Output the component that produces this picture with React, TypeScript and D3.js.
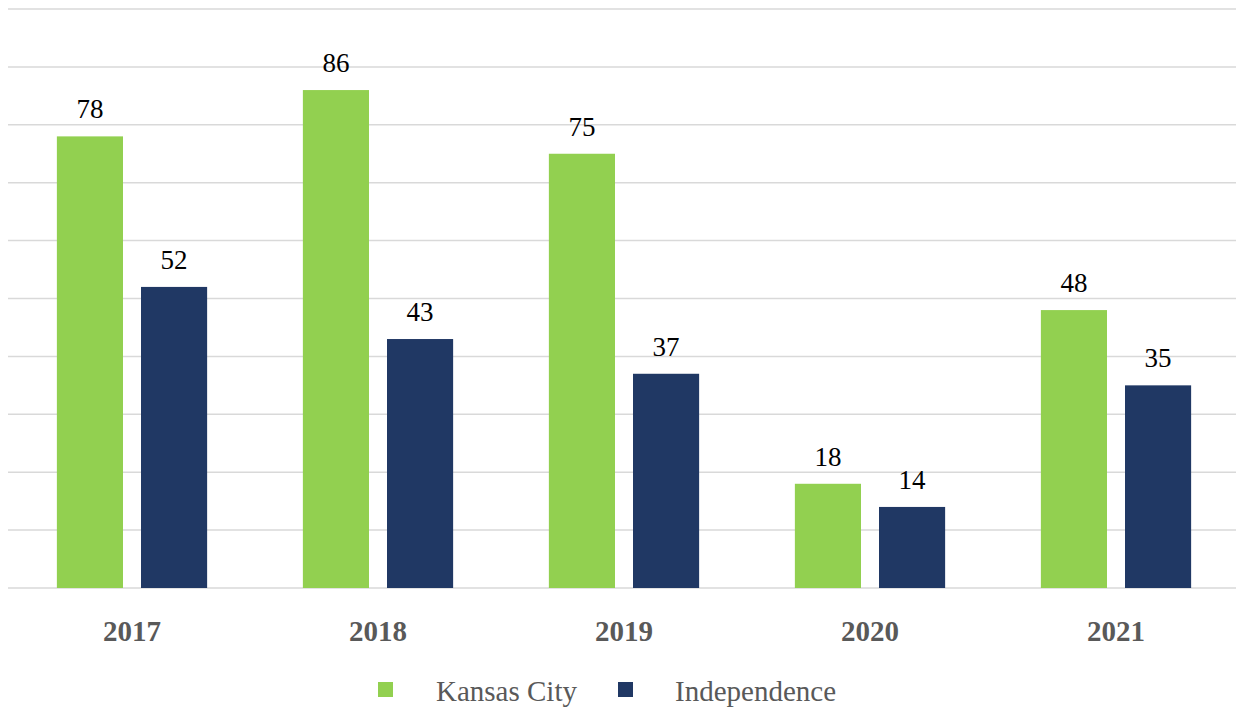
import React from "react";
import * as d3 from "d3";

const years = ["2017", "2018", "2019", "2020", "2021"];
const seriesNames = ["Kansas City", "Independence"];
const kansasCity = [78, 86, 75, 18, 48];
const independence = [52, 43, 37, 14, 35];
const colors = ["#92d050", "#203864"];
const yTicks = [0, 10, 20, 30, 40, 50, 60, 70, 80, 90, 100];

const W = 1236;
const H = 714;
const FONT = "'Liberation Serif', 'Times New Roman', serif";

export default function App() {
  const x0 = d3.scaleBand<string>().domain(years).range([9, 1239]).paddingInner(0).paddingOuter(0);
  const x1 = d3
    .scaleBand<string>()
    .domain(seriesNames)
    .range([0, x0.step()])
    .paddingInner(0.214)
    .paddingOuter(0.569);
  const y = d3.scaleLinear().domain([0, 100]).range([588, 9]);
  const values = [kansasCity, independence];

  return (
    <svg width={W} height={H} style={{ position: "absolute", left: 0, top: 0, background: "#fff" }}>
      {yTicks.map((t) => (
        <line key={t} x1={8} x2={1236} y1={y(t)} y2={y(t)} stroke="#d9d9d9" strokeWidth={1.5} />
      ))}
      {years.map((yr, i) => (
        <g key={yr} transform={`translate(${x0(yr)},0)`}>
          {seriesNames.map((s, j) => {
            const v = values[j][i];
            return (
              <g key={s}>
                <rect x={x1(s)} y={y(v)} width={x1.bandwidth()} height={y(0) - y(v)} fill={colors[j]} />
                <text
                  x={(x1(s) as number) + x1.bandwidth() / 2}
                  y={y(v) - 18}
                  textAnchor="middle"
                  fontFamily={FONT}
                  fontSize={27}
                  fill="#000"
                >
                  {v}
                </text>
              </g>
            );
          })}
          <text
            x={x0.bandwidth() / 2}
            y={641}
            textAnchor="middle"
            fontFamily={FONT}
            fontWeight="bold"
            fontSize={29}
            fill="#595959"
          >
            {yr}
          </text>
        </g>
      ))}
      <g>
        <rect x={378} y={682} width={15} height={15} fill={colors[0]} />
        <text x={436} y={701} fontFamily={FONT} fontSize={29} fill="#595959">
          {seriesNames[0]}
        </text>
        <rect x={618} y={682} width={15} height={15} fill={colors[1]} />
        <text x={675} y={701} fontFamily={FONT} fontSize={29} fill="#595959">
          {seriesNames[1]}
        </text>
      </g>
    </svg>
  );
}
